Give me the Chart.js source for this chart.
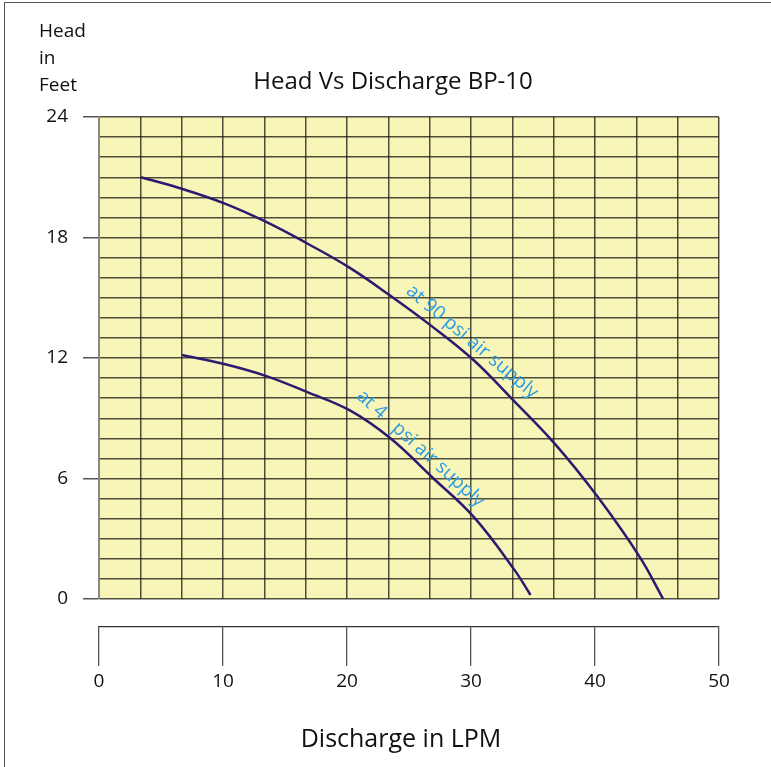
<!DOCTYPE html>
<html lang="en">
<head>
<meta charset="UTF-8">
<title>Head Vs Discharge BP-10</title>
<script src="https://cdn.jsdelivr.net/npm/chart.js"></script>
<style>
  html, body { margin: 0; padding: 0; overflow: hidden; background: #fff; }
  .frame {
    position: absolute; left: 4px; top: 2px; width: 800px; height: 800px;
    border-left: 1px solid #555; border-top: 1px solid #555;
  }
  #chart { position: absolute; left: 0; top: 0; }
</style>
</head>
<body>
<div class="frame"></div>
<canvas id="chart" width="771" height="767"></canvas>
<script>
// curve at 90 psi air supply
var discharge90 = [3.4, 6.8, 10.1, 13.4, 16.8, 20.2, 23.5, 26.8, 30.2, 33.4, 36.8, 40.2, 43.6, 45.5];
var head90 = [21.0, 20.4, 19.7, 18.8, 17.7, 16.5, 15.1, 13.6, 11.9, 9.9, 7.7, 5.1, 2.1, 0];
// curve at 4 psi air supply
var discharge4 = [6.7, 10.1, 13.5, 16.8, 20.2, 23.5, 26.8, 30.2, 33.5, 34.8];
var head4 = [12.15, 11.7, 11.1, 10.3, 9.4, 8.0, 6.1, 4.1, 1.45, 0.2];

var xTicks = [0, 10, 20, 30, 40, 50];
var yTicks = [0, 6, 12, 18, 24];

var FONT = "'Open Sans', sans-serif";
var gridColor = 'rgba(35, 35, 25, 0.8)';

function toPoints(xs, ys) {
    return xs.map(function (x, i) { return { x: x, y: ys[i] }; });
}

var decor = {
    id: 'decor',
    beforeDraw: function (chart) {
        var a = chart.chartArea, ctx = chart.ctx;
        ctx.save();
        ctx.fillStyle = '#f8f5b9';
        ctx.fillRect(a.left, a.top, a.right - a.left, a.bottom - a.top);
        ctx.restore();
    },
    afterDraw: function (chart) {
        var ctx = chart.ctx, sx = chart.scales.x, sy = chart.scales.y;
        ctx.save();
        ctx.fillStyle = '#111';
        ctx.textBaseline = 'alphabetic';

        ctx.font = '19px ' + FONT;
        ctx.textAlign = 'left';
        ctx.fillText('Head', 39, 37);
        ctx.fillText('in', 39, 64);
        ctx.fillText('Feet', 39, 91);

        ctx.textAlign = 'center';
        ctx.font = '24px ' + FONT;
        ctx.fillText('Head Vs Discharge BP-10', 393, 89);

        ctx.font = '25px ' + FONT;
        ctx.fillText('Discharge in LPM', 401, 747);

        // curve labels, set just above their curves
        ctx.fillStyle = '#2b9be0';
        ctx.font = '19px ' + FONT;
        var labels = [
            { text: 'at 90 psi air supply', x: 29.4, y: 12.3, angle: 40 },
            { text: 'at 4   psi air supply', x: 25.2, y: 7.0, angle: 42 }
        ];
        labels.forEach(function (l) {
            ctx.save();
            ctx.translate(sx.getPixelForValue(l.x), sy.getPixelForValue(l.y));
            ctx.rotate(l.angle * Math.PI / 180);
            ctx.fillText(l.text, 0, -8);
            ctx.restore();
        });
        ctx.restore();
    }
};

var ctx = document.getElementById('chart').getContext('2d');
var chart = new Chart(ctx, {
    type: 'scatter',
    data: {
        datasets: [{
            label: 'at 90 psi air supply',
            data: toPoints(discharge90, head90),
            showLine: true,
            borderColor: '#2a1b6e',
            borderWidth: 2.5,
            pointRadius: 0,
            tension: 0.4
        }, {
            label: 'at 4 psi air supply',
            data: toPoints(discharge4, head4),
            showLine: true,
            borderColor: '#2a1b6e',
            borderWidth: 2.5,
            pointRadius: 0,
            tension: 0.4
        }]
    },
    options: {
        responsive: false,
        animation: false,
        layout: { padding: { left: 0, right: 52, top: 117, bottom: 0 } },
        plugins: { legend: { display: false }, tooltip: { enabled: false } },
        scales: {
            x: {
                type: 'linear', min: 0, max: 50, position: 'bottom', weight: 0,
                afterBuildTicks: function (s) {
                    s.ticks = [];
                    for (var k = 0; k <= 15; k++) s.ticks.push({ value: k * 10 / 3 });
                },
                ticks: { display: false },
                grid: { color: gridColor, lineWidth: 1.5, drawTicks: false },
                border: { display: false },
                afterFit: function (s) { s.height = 28; }
            },
            x2: {
                type: 'linear', min: 0, max: 50, position: 'bottom', weight: 1,
                afterBuildTicks: function (s) {
                    s.ticks = xTicks.map(function (v) { return { value: v }; });
                },
                ticks: { color: '#111', font: { family: FONT, size: 19 }, padding: 4, maxRotation: 0, autoSkip: false },
                grid: { drawOnChartArea: false, tickLength: 39, color: '#555', lineWidth: 1.3 },
                border: { display: true, color: '#333', width: 1.3 },
                afterFit: function (s) { s.height = 140; }
            },
            y: {
                min: 0, max: 24,
                afterBuildTicks: function (s) {
                    s.ticks = [];
                    for (var v = 0; v <= 24; v++) s.ticks.push({ value: v });
                },
                ticks: {
                    color: '#111', font: { family: FONT, size: 19 }, padding: 15, autoSkip: false,
                    callback: function (v) { return yTicks.indexOf(v) >= 0 ? String(v) : ''; }
                },
                grid: {
                    color: gridColor, lineWidth: 1.5, tickLength: 16,
                    tickColor: function (c) { return c.tick && yTicks.indexOf(c.tick.value) >= 0 ? '#555' : 'rgba(0,0,0,0)'; }
                },
                border: { display: true, color: '#888', width: 2 },
                afterFit: function (s) { s.width = 99; }
            }
        }
    },
    plugins: [decor]
});
</script>
</body>
</html>
